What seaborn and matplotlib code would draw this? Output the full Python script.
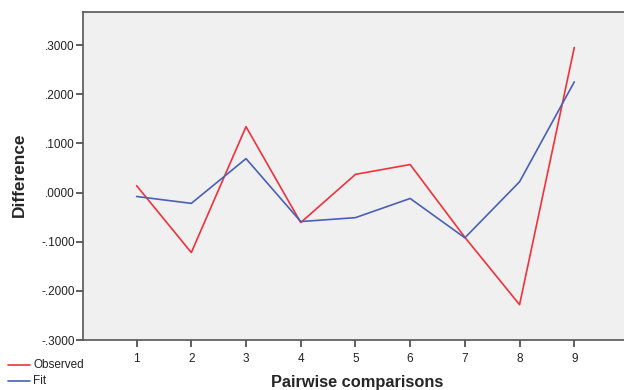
import pandas as pd
import matplotlib
matplotlib.use('Agg')
import matplotlib.pyplot as plt
import seaborn as sns
from matplotlib.ticker import FuncFormatter

comparisons = [1, 2, 3, 4, 5, 6, 7, 8, 9]
observed = [0.014, -0.122, 0.134, -0.061, 0.037, 0.057, -0.091, -0.228, 0.295]
fit = [-0.008, -0.022, 0.069, -0.059, -0.051, -0.012, -0.092, 0.022, 0.225]

df = pd.DataFrame({
    'comparison': comparisons * 2,
    'difference': observed + fit,
    'series': ['Observed'] * len(observed) + ['Fit'] * len(fit),
})

sns.set_style('white')
plt.rcParams['font.family'] = ['Liberation Sans', 'DejaVu Sans']

fig = plt.figure(figsize=(6.24, 3.9), dpi=100)
ax = fig.add_axes([0.133, 0.128, 0.875, 0.841])
ax.set_facecolor('#f0f0f0')

palette = {'Observed': '#f0323c', 'Fit': '#4a60b4'}
sns.lineplot(data=df, x='comparison', y='difference', hue='series',
             palette=palette, linewidth=1.2, ax=ax, legend=False)

ax.set_xlim(0.02, 10)
ax.set_ylim(-0.3, 0.367)
ax.set_xticks(comparisons)
ax.set_yticks([-0.3, -0.2, -0.1, 0.0, 0.1, 0.2, 0.3])

def fmt(v, pos):
    s = f'{v:.4f}'
    return s.replace('0.', '.', 1)

ax.yaxis.set_major_formatter(FuncFormatter(fmt))
ax.tick_params(axis='both', bottom=True, left=True, direction='out', length=5, width=1.2,
               color='#444444', labelsize=8.5, labelcolor='#222222', pad=1)
ax.tick_params(axis='x', pad=4)
for side in ['left', 'bottom', 'top']:
    ax.spines[side].set_color('#555555')
    ax.spines[side].set_linewidth(1.2)
ax.spines['right'].set_visible(False)

ax.set_xlabel('Pairwise comparisons', fontsize=11.8, fontweight='bold')
ax.set_ylabel('Difference', fontsize=12.4, fontweight='bold')
ax.xaxis.set_label_coords(0.503, -0.105)
ax.yaxis.set_label_coords(-0.102, 0.503)

# legend in the lower-left corner of the figure
fig.lines.append(plt.Line2D([0.013, 0.048], [0.065, 0.065], color=palette['Observed'],
                            linewidth=1.2, transform=fig.transFigure))
fig.lines.append(plt.Line2D([0.013, 0.048], [0.023, 0.023], color=palette['Fit'],
                            linewidth=1.2, transform=fig.transFigure))
fig.text(0.053, 0.065, 'Observed', fontsize=8.5, va='center', color='#222222')
fig.text(0.053, 0.023, 'Fit', fontsize=8.5, va='center', color='#222222')

fig.savefig('out.png', dpi=100)
